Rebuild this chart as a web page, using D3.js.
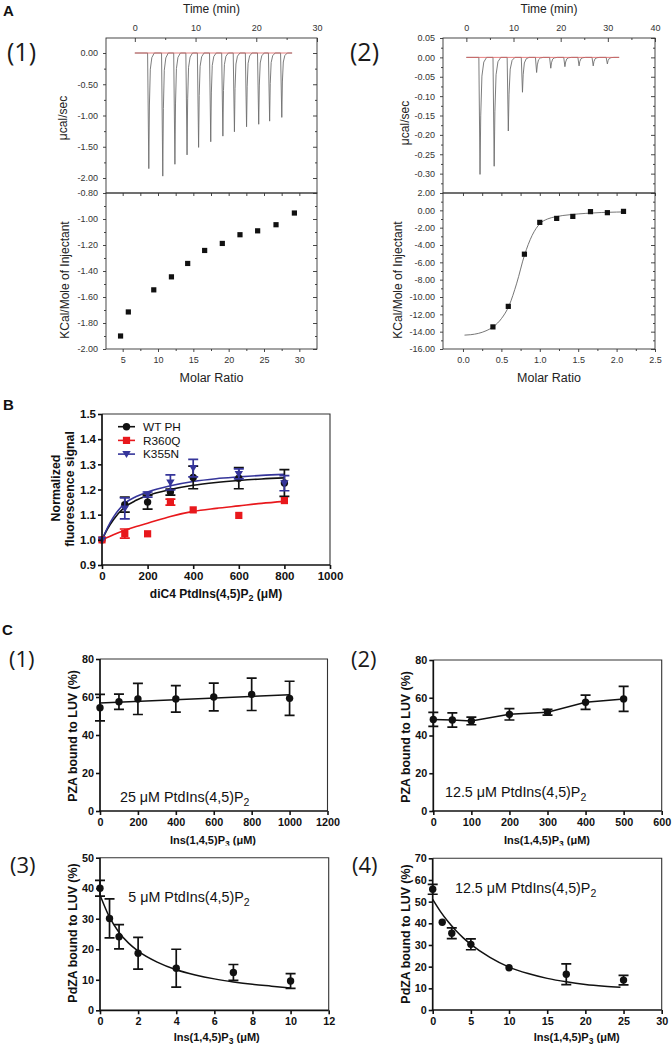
<!DOCTYPE html>
<html><head><meta charset="utf-8">
<script src="https://cdn.jsdelivr.net/npm/d3@7"></script>
<style>body{margin:0;background:#fff}svg{display:block}</style>
</head><body>
<svg id="c" width="672" height="1050"></svg>
<script>
// ---------------- DATA ----------------
// Panel A(1): ITC raw thermogram (injection time, peak depth in µcal/sec)
const a1PeakTime = [2.3, 4.6, 6.6, 8.6, 10.5, 12.5, 14.5, 16.4, 18.4, 20.4, 22.2, 24.2];
const a1PeakDepth = [-1.85, -1.97, -1.78, -1.63, -1.51, -1.42, -1.33, -1.26, -1.18, -1.14, -1.09, -1.03];
const a1RunEnd = 25.9;
// Panel A(1): integrated heats
const a1Ratio = [4.7, 5.8, 9.4, 11.9, 14.2, 16.6, 19.1, 21.6, 24.1, 26.7, 29.3];
const a1Heat = [-1.90, -1.715, -1.545, -1.445, -1.342, -1.242, -1.188, -1.121, -1.091, -1.044, -0.954];

// Panel A(2): ITC raw thermogram
const a2PeakTime = [2.9, 5.9, 8.9, 11.9, 14.9, 17.9, 20.9, 23.9, 26.9, 29.9];
const a2PeakDepth = [-0.302, -0.281, -0.19, -0.09, -0.039, -0.028, -0.024, -0.022, -0.022, -0.017];
const a2RunEnd = 32.4;
// Panel A(2): integrated heats and fitted curve
const a2Ratio = [0.39, 0.59, 0.80, 1.00, 1.22, 1.43, 1.66, 1.88, 2.09];
const a2Heat = [-13.45, -11.08, -5.06, -1.39, -0.93, -0.70, -0.15, -0.27, -0.12];
const a2FitRatio = [0.02, 0.1, 0.2, 0.3, 0.4, 0.5, 0.6, 0.7, 0.8, 0.9, 1.0, 1.1, 1.2, 1.4, 1.6, 1.8, 2.0, 2.1];
const a2FitHeat = [-14.4, -14.35, -14.2, -13.9, -13.4, -12.5, -11.0, -8.4, -5.2, -2.9, -1.55, -1.0, -0.75, -0.5, -0.35, -0.25, -0.2, -0.18];

// Panel B
const bSeries = ["WT PH", "R360Q", "K355N"];
const bConc = [0, 100, 200, 300, 400, 600, 800];
const bWT = [1.0, 1.14, 1.15, 1.19, 1.248, 1.245, 1.226];
const bWTErr = [0, 0.03, 0.028, 0.012, 0.045, 0.042, 0.053];
const bR360Q = [1.0, 1.025, 1.024, 1.15, 1.119, 1.097, 1.156];
const bR360QErr = [0, 0.018, 0, 0.012, 0, 0, 0];
const bK355N = [1.0, 1.125, 1.18, 1.228, 1.285, 1.262, 1.225];
const bK355NErr = [0, 0.042, 0.01, 0.03, 0.035, 0.02, 0.03];
const bFitConc = [0, 25, 50, 100, 150, 200, 300, 400, 500, 600, 700, 800];
const bWTFit = [1.0, 1.045, 1.08, 1.13, 1.157, 1.176, 1.20, 1.217, 1.228, 1.236, 1.242, 1.246];
const bR360QFit = [1.0, 1.01, 1.02, 1.038, 1.053, 1.066, 1.093, 1.113, 1.125, 1.135, 1.145, 1.153];
const bK355NFit = [1.0, 1.05, 1.09, 1.145, 1.172, 1.19, 1.215, 1.232, 1.243, 1.25, 1.256, 1.26];

// Panel C(1)
const c1Conc = [0, 100, 200, 400, 600, 800, 1000];
const c1Bound = [54.4, 57.5, 59.0, 59.0, 60.0, 61.4, 59.3];
const c1Err = [7.0, 4.0, 8.2, 7.0, 7.3, 8.5, 9.0];
const c1FitConc = [0, 1000];
const c1FitBound = [56.8, 61.2];
// Panel C(2)
const c2Conc = [0, 50, 100, 200, 300, 400, 500];
const c2Bound = [48.5, 48.2, 47.7, 51.2, 52.3, 57.6, 59.4];
const c2Err = [3.7, 3.8, 2.0, 3.0, 1.5, 3.8, 6.6];
// Panel C(3)
const c3Conc = [0, 0.5, 1, 2, 4, 7, 10];
const c3Bound = [40.0, 30.1, 24.1, 18.7, 13.8, 12.4, 9.6];
const c3Err = [2.6, 6.4, 4.0, 5.2, 6.2, 2.6, 2.4];
const c3FitConc = [0, 0.5, 1, 1.5, 2, 3, 4, 5, 6, 7, 8, 9, 10];
const c3FitBound = [37.8, 30.5, 25.5, 22.0, 19.4, 15.8, 13.3, 11.6, 10.3, 9.3, 8.5, 7.9, 7.3];
// Panel C(4)
const c4Conc = [0, 1.25, 2.5, 5, 10, 17.5, 25];
const c4Bound = [55.7, 40.5, 35.4, 30.3, 19.5, 16.5, 13.8];
const c4Err = [2.3, 0, 2.5, 2.5, 0, 4.8, 2.2];
const c4FitConc = [0, 1, 2, 3, 4, 5, 7.5, 10, 12.5, 15, 17.5, 20, 22.5, 24.6];
const c4FitBound = [51.0, 45.5, 40.8, 36.8, 33.3, 30.3, 24.3, 19.8, 16.8, 14.6, 13.0, 11.8, 11.0, 10.5];

// ---------------- DRAWING ----------------
const svg = d3.select("#c");
const SANS = "'Liberation Sans', Arial, Helvetica, sans-serif";
const PANELFONT = "'Open Sans', 'Noto Sans', sans-serif";

function styleAxis(a, o) {
  a.attr("font-family", o.font).attr("font-size", o.size).attr("font-weight", o.weight || "normal");
  a.select(".domain").remove();
  a.selectAll(".tick line").attr("stroke", o.color).attr("stroke-width", o.sw || 1);
  a.selectAll(".tick text").attr("fill", o.color);
}

function richText(g, x, y, parts, attrs) {
  const t = g.append("text").attr("x", x).attr("y", y);
  Object.entries(attrs).forEach(([k, v]) => t.attr(k, v));
  let shifted = 0;
  parts.forEach(p => {
    const ts = t.append("tspan");
    if (typeof p === "string") {
      if (shifted) { ts.attr("dy", -shifted); shifted = 0; }
      ts.text(p);
    } else {
      ts.attr("dy", p.dy).attr("font-size", p.size).text(p.sub);
      shifted = p.dy;
    }
  });
  return t;
}

function panelLabel(x, y, txt, size) {
  svg.append("text").attr("x", x).attr("y", y).attr("font-family", PANELFONT)
    .attr("font-size", size).attr("fill", "#1a1a1a").text(txt);
}
function letter(x, y, txt) {
  svg.append("text").attr("x", x).attr("y", y).attr("font-family", SANS)
    .attr("font-size", 15).attr("font-weight", "bold").attr("fill", "#111").text(txt);
}

// ---- ITC panel ----
function itcPanel(c) {
  const g = svg.append("g");
  const xT = d3.scaleLinear().domain(c.tDom).range([c.x0, c.x1]);
  const yT = d3.scaleLinear().domain(c.yTDom).range([c.yMid, c.yTop]);
  const xR = d3.scaleLinear().domain(c.rDom).range([c.x0, c.x1]);
  const yR = d3.scaleLinear().domain(c.yRDom).range([c.yBot, c.yMid]);
  const st = { font: SANS, size: 9, color: "#333", sw: 0.9 };
  const ax = (tr, axis) => { const a = g.append("g").attr("transform", tr).call(axis); styleAxis(a, st); return a; };

  // thermogram trace
  const pts = [[c.tStart, 0]];
  c.peakTime.forEach((t, i) => {
    const d = c.peakDepth[i];
    c.shape.forEach(([dt, f]) => pts.push([t + dt, d * f]));
  });
  pts.push([c.runEnd, 0]);
  g.append("path").attr("d", d3.line().x(p => xT(p[0])).y(p => yT(p[1]))(pts))
    .attr("fill", "none").attr("stroke", "#6e6e6e").attr("stroke-width", 0.9);
  g.append("line").attr("x1", xT(c.tStart)).attr("x2", xT(c.runEnd))
    .attr("y1", yT(0)).attr("y2", yT(0)).attr("stroke", "#e06060").attr("stroke-width", 0.8);

  // frames
  g.append("rect").attr("x", c.x0).attr("y", c.yTop).attr("width", c.x1 - c.x0).attr("height", c.yMid - c.yTop)
    .attr("fill", "none").attr("stroke", "#333").attr("stroke-width", 0.9);
  g.append("rect").attr("x", c.x0).attr("y", c.yMid).attr("width", c.x1 - c.x0).attr("height", c.yBot - c.yMid)
    .attr("fill", "none").attr("stroke", "#333").attr("stroke-width", 0.9);

  // upper axes
  ax(`translate(0,${c.yTop})`, d3.axisTop(xT).tickValues(c.tMajor).tickSize(-4).tickPadding(7).tickFormat(d3.format("d")));
  ax(`translate(0,${c.yTop})`, d3.axisTop(xT).tickValues(c.tMinor).tickSize(-2).tickFormat(""));
  ax(`translate(${c.x0},0)`, d3.axisLeft(yT).tickValues(c.yTMajor).tickSize(3).tickPadding(5).tickFormat(v => v.toFixed(2)));
  ax(`translate(${c.x0},0)`, d3.axisLeft(yT).tickValues(c.yTMinor).tickSize(2).tickFormat(""));
  ax(`translate(${c.x1},0)`, d3.axisRight(yT).tickValues(c.yTMajor).tickSize(-4).tickFormat(""));
  ax(`translate(${c.x1},0)`, d3.axisRight(yT).tickValues(c.yTMinor).tickSize(-2).tickFormat(""));
  // lower axes
  ax(`translate(0,${c.yMid})`, d3.axisTop(xR).tickValues(c.rMajor.concat(c.rMinor)).tickSize(-3).tickFormat(""));
  ax(`translate(0,${c.yBot})`, d3.axisBottom(xR).tickValues(c.rMajor).tickSize(3).tickPadding(5).tickFormat(c.rFmt));
  ax(`translate(0,${c.yBot})`, d3.axisBottom(xR).tickValues(c.rMinor).tickSize(2).tickFormat(""));
  ax(`translate(${c.x0},0)`, d3.axisLeft(yR).tickValues(c.yRMajor).tickSize(3).tickPadding(5).tickFormat(v => v.toFixed(2)));
  ax(`translate(${c.x0},0)`, d3.axisLeft(yR).tickValues(c.yRMinor).tickSize(2).tickFormat(""));
  ax(`translate(${c.x1},0)`, d3.axisRight(yR).tickValues(c.yRMajor).tickSize(-4).tickFormat(""));
  ax(`translate(${c.x1},0)`, d3.axisRight(yR).tickValues(c.yRMinor).tickSize(-2).tickFormat(""));

  // fit
  if (c.fitX) {
    g.append("path").attr("d", d3.line().curve(d3.curveMonotoneX).x((d, i) => xR(c.fitX[i])).y(d => yR(d))(c.fitY))
      .attr("fill", "none").attr("stroke", "#666").attr("stroke-width", 0.9);
  }
  // points
  g.selectAll(null).data(c.ratio).join("rect")
    .attr("x", (d) => xR(d) - 2.6).attr("y", (d, i) => yR(c.heat[i]) - 2.6)
    .attr("width", 5.2).attr("height", 5.2).attr("fill", "#111");

  // titles
  const tt = { "font-family": SANS, "font-size": 12, "fill": "#222", "text-anchor": "middle" };
  richText(g, (c.x0 + c.x1) / 2, 13, ["Time (min)"], tt);
  richText(g, (c.x0 + c.x1) / 2, 382, ["Molar Ratio"], Object.assign({}, tt, { "font-size": 12.5 }));
  richText(g, 0, 0, ["\u03bccal/sec"], Object.assign({}, tt, { transform: `translate(${c.ly1x},${c.ly1y}) rotate(-90)` }));
  richText(g, 0, 0, ["KCal/Mole of Injectant"], Object.assign({}, tt, { transform: `translate(${c.ly2x},280) rotate(-90)` }));
}

const tick = (a, b, s) => d3.range(a, b + s / 2, s).map(v => +v.toFixed(4));

itcPanel({
  x0: 106, x1: 317, yTop: 38, yMid: 193, yBot: 349,
  tDom: [-4.75, 30], yTDom: [-2.24, 0.24], rDom: [2.64, 32.5], yRDom: [-2.0, -0.8],
  tMajor: [0, 10, 20, 30], tMinor: [5, 15, 25],
  yTMajor: tick(-2, 0, 0.5), yTMinor: [-0.25, -0.75, -1.25, -1.75],
  rMajor: [5, 10, 15, 20, 25, 30], rMinor: [7.5, 12.5, 17.5, 22.5, 27.5], rFmt: d3.format("d"),
  yRMajor: tick(-2, -0.8, 0.2), yRMinor: tick(-1.9, -0.9, 0.2),
  peakTime: a1PeakTime, peakDepth: a1PeakDepth, tStart: 0, runEnd: a1RunEnd,
  shape: [[-0.2, 0], [0, 1], [0.1, 0.45], [0.25, 0.14], [0.5, 0.04], [0.9, 0]],
  ratio: a1Ratio, heat: a1Heat,
  ly1x: 67, ly1y: 118, ly2x: 69
});
itcPanel({
  x0: 443, x1: 655, yTop: 38, yMid: 193, yBot: 349,
  tDom: [-4.95, 40], yTDom: [-0.35, 0.05], rDom: [-0.26, 2.5], yRDom: [-16, 2],
  tMajor: [0, 10, 20, 30, 40], tMinor: [5, 15, 25, 35],
  yTMajor: tick(-0.3, 0.05, 0.05), yTMinor: tick(-0.325, 0.025, 0.05),
  rMajor: tick(0, 2.5, 0.5), rMinor: tick(0.25, 2.25, 0.5), rFmt: d3.format(".1f"),
  yRMajor: tick(-16, 2, 2), yRMinor: tick(-15, 1, 2),
  peakTime: a2PeakTime, peakDepth: a2PeakDepth, tStart: 0, runEnd: a2RunEnd,
  shape: [[-0.25, 0], [0, 1], [0.15, 0.5], [0.4, 0.16], [0.8, 0.04], [1.4, 0]],
  ratio: a2Ratio, heat: a2Heat, fitX: a2FitRatio, fitY: a2FitHeat,
  ly1x: 409, ly1y: 123, ly2x: 402
});

letter(3, 16, "A");
panelLabel(7, 61, "(1)", 25);
panelLabel(350, 61, "(2)", 25);

// ---- GraphPad-style helpers ----
function gpFrame(g, x, y, xTicks, yTicks, xFmt, yFmt, fs) {
  const st = { font: SANS, size: fs, color: "#111", weight: "bold", sw: 1.6 };
  const [x0, x1] = x.range(), [y0, y1] = y.range();
  g.append("path").attr("d", `M${x0},${y1}H${x1}V${y0}`).attr("fill", "none").attr("stroke", "#333").attr("stroke-width", 1.1);
  const ay = g.append("g").attr("transform", `translate(${x0},0)`)
    .call(d3.axisLeft(y).tickValues(yTicks).tickSize(4).tickPadding(2).tickFormat(yFmt));
  styleAxis(ay, st);
  const axx = g.append("g").attr("transform", `translate(0,${y0})`)
    .call(d3.axisBottom(x).tickValues(xTicks).tickSize(4).tickPadding(3).tickFormat(xFmt));
  styleAxis(axx, st);
  g.append("line").attr("x1", x0).attr("x2", x0).attr("y1", y0 + 0.8).attr("y2", y1).attr("stroke", "#111").attr("stroke-width", 1.7);
  g.append("line").attr("x1", x0 - 0.8).attr("x2", x1).attr("y1", y0).attr("y2", y0).attr("stroke", "#111").attr("stroke-width", 1.7);
}
function errBars(g, x, y, xs, ys, es, color, cap) {
  xs.forEach((xv, i) => {
    const e = es[i];
    if (!e) return;
    const cx = x(xv), yt = y(ys[i] + e), yb = y(ys[i] - e);
    g.append("path").attr("d", `M${cx},${yt}V${yb}M${cx - cap},${yt}H${cx + cap}M${cx - cap},${yb}H${cx + cap}`)
      .attr("fill", "none").attr("stroke", color).attr("stroke-width", 1.7);
  });
}
function fitPath(g, x, y, xs, ys, color, w) {
  g.append("path").attr("d", d3.line().curve(d3.curveMonotoneX).x((d, i) => x(xs[i])).y(d => y(d))(ys))
    .attr("fill", "none").attr("stroke", color).attr("stroke-width", w);
}
function marker(g, type, cx, cy, color) {
  if (type === "circle") g.append("circle").attr("cx", cx).attr("cy", cy).attr("r", 3.7).attr("fill", color);
  else if (type === "square") g.append("rect").attr("x", cx - 3.6).attr("y", cy - 3.6).attr("width", 7.2).attr("height", 7.2).attr("fill", color);
  else g.append("path").attr("d", `M${cx - 4.2},${cy - 3}H${cx + 4.2}L${cx},${cy + 4}Z`).attr("fill", color);
}

// ---- Panel B ----
{
  const g = svg.append("g");
  const x = d3.scaleLinear().domain([0, 1000]).range([102, 330]);
  const y = d3.scaleLinear().domain([0.9, 1.5]).range([565, 414]);
  const RED = "#e8181c", BLUE = "#35359a", BLACK = "#111";
  const series = [
    { v: bWT, e: bWTErr, f: bWTFit, c: BLACK, m: "circle" },
    { v: bR360Q, e: bR360QErr, f: bR360QFit, c: RED, m: "square" },
    { v: bK355N, e: bK355NErr, f: bK355NFit, c: BLUE, m: "tri" }
  ];
  series.forEach(s => fitPath(g, x, y, bFitConc, s.f, s.c, 1.6));
  series.forEach(s => {
    errBars(g, x, y, bConc, s.v, s.e, s.c, 5);
    bConc.forEach((cv, i) => marker(g, s.m, x(cv), y(s.v[i]), s.c));
  });
  gpFrame(g, x, y, d3.range(0, 1001, 200), tick(0.9, 1.5, 0.1), d3.format("d"), d3.format(".1f"), 11.5);
  // legend
  series.forEach((s, i) => {
    const ly = 426.7 + i * 13.7;
    g.append("line").attr("x1", 118).attr("x2", 135).attr("y1", ly).attr("y2", ly).attr("stroke", s.c).attr("stroke-width", 1.6);
    marker(g, s.m, 126.5, ly, s.c);
    g.append("text").attr("x", 143).attr("y", ly + 4.3).attr("font-family", SANS).attr("font-size", 11.8)
      .attr("fill", "#111").text(bSeries[i]);
  });
  const bt = { "font-family": SANS, "font-size": 12, "font-weight": "bold", "fill": "#111", "text-anchor": "middle" };
  richText(g, 216, 598, ["diC4 PtdIns(4,5)P", { sub: "2", dy: 3, size: 9 }, " (\u03bcM)"], bt);
  richText(g, 0, 0, ["Normalized"], Object.assign({}, bt, { "font-size": 12.4, transform: "translate(60,488) rotate(-90)" }));
  richText(g, 0, 0, ["fluorescence signal"], Object.assign({}, bt, { "font-size": 12.4, transform: "translate(73.5,489) rotate(-90)" }));
}
letter(3, 410, "B");

// ---- Panel C ----
function cPanel(p) {
  const g = svg.append("g");
  const x = d3.scaleLinear().domain(p.xDom).range(p.xr);
  const y = d3.scaleLinear().domain(p.yDom).range(p.yr);
  if (p.fitX) fitPath(g, x, y, p.fitX, p.fitY, "#111", 1.5);
  else g.append("path").attr("d", d3.line().x((d, i) => x(p.conc[i])).y(d => y(d))(p.bound))
    .attr("fill", "none").attr("stroke", "#111").attr("stroke-width", 1.5);
  errBars(g, x, y, p.conc, p.bound, p.err, "#111", 5);
  p.conc.forEach((cv, i) => marker(g, "circle", x(cv), y(p.bound[i]), "#111"));
  gpFrame(g, x, y, p.xTicks, p.yTicks, d3.format("d"), d3.format("d"), 10.8);
  const bt = { "font-family": SANS, "font-size": 12.4, "font-weight": "bold", "fill": "#111", "text-anchor": "middle" };
  richText(g, 0, 0, [p.yTitle], Object.assign({}, bt, { transform: `translate(${p.yTitleX},${p.yTitleY}) rotate(-90)` }));
  richText(g, p.xTitleX, p.xTitleY, ["Ins(1,4,5)P", { sub: "3", dy: 3, size: 8.5 }, " (\u03bcM)"], Object.assign({}, bt, { "font-size": 11 }));
  richText(g, p.noteX, p.noteY, [p.note, "PtdIns(4,5)P", { sub: "2", dy: 4, size: 10.5 }],
    { "font-family": SANS, "font-size": 14.3, "fill": "#111" });
}

cPanel({ xDom: [0, 1200], xr: [100, 327.5], yDom: [0, 80], yr: [811, 659],
  conc: c1Conc, bound: c1Bound, err: c1Err, fitX: c1FitConc, fitY: c1FitBound,
  xTicks: d3.range(0, 1201, 200), yTicks: d3.range(0, 81, 20),
  yTitle: "PZA bound to LUV (%)", yTitleX: 76.5, yTitleY: 736, xTitleX: 213, xTitleY: 844,
  note: "25 \u03bcM ", noteX: 120, noteY: 802 });
cPanel({ xDom: [0, 600], xr: [433.3, 661.7], yDom: [0, 80], yr: [811, 660],
  conc: c2Conc, bound: c2Bound, err: c2Err,
  xTicks: d3.range(0, 601, 100), yTicks: d3.range(0, 81, 20),
  yTitle: "PZA bound to LUV (%)", yTitleX: 409.5, yTitleY: 737, xTitleX: 547, xTitleY: 844,
  note: "12.5 \u03bcM ", noteX: 445, noteY: 797 });
// lower panels cover the bottom of the upper x-axis titles
svg.append("rect").attr("x", 0).attr("y", 845.5).attr("width", 672).attr("height", 8).attr("fill", "#fff");
cPanel({ xDom: [0, 12], xr: [100, 328.7], yDom: [0, 50], yr: [1010.3, 857.7],
  conc: c3Conc, bound: c3Bound, err: c3Err, fitX: c3FitConc, fitY: c3FitBound,
  xTicks: d3.range(0, 13, 2), yTicks: d3.range(0, 51, 10),
  yTitle: "PdZA bound to LUV (%)", yTitleX: 76.5, yTitleY: 933, xTitleX: 216.7, xTitleY: 1041,
  note: "5 \u03bcM ", noteX: 128.3, noteY: 902 });
cPanel({ xDom: [0, 30], xr: [432.7, 661.7], yDom: [0, 70], yr: [1010, 858.3],
  conc: c4Conc, bound: c4Bound, err: c4Err, fitX: c4FitConc, fitY: c4FitBound,
  xTicks: d3.range(0, 31, 5), yTicks: d3.range(0, 71, 10),
  yTitle: "PdZA bound to LUV (%)", yTitleX: 409.5, yTitleY: 934, xTitleX: 576.7, xTitleY: 1041,
  note: "12.5 \u03bcM ", noteX: 455, noteY: 893 });

letter(2, 635, "C");
panelLabel(9, 667, "(1)", 22);
panelLabel(351, 667, "(2)", 22);
panelLabel(10, 873, "(3)", 22);
panelLabel(352, 873, "(4)", 22);
</script>
</body></html>
